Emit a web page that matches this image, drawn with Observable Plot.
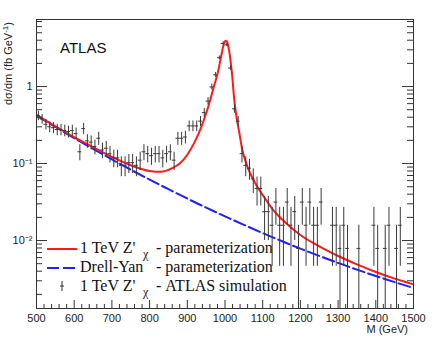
<!DOCTYPE html>
<html><head><meta charset="utf-8">
<script src="https://cdn.jsdelivr.net/npm/d3@7"></script>
<script src="https://cdn.jsdelivr.net/npm/@observablehq/plot@0.6"></script>
<style>
body{margin:0;background:#fff;}
#chart{position:relative;width:436px;height:338px;}
</style></head><body><div id="chart"></div>
<script>
// ---- data ----
const binCenters = [505,515,525,535,545,555,565,575,585,595,605,615,625,635,645,655,665,675,685,695,
  705,715,725,735,745,755,765,775,785,795,805,815,825,835,845,855,865,875,885,895,
  905,915,925,935,945,955,965,975,985,995,1005,1015,1025,1035,1045,1055,1065,1075,1085,1095,
  1105,1115,1125,1135,1145,1155,1165,1175,1185,1195,1205,1215,1225,1235,1245,1255,1265,1275,1285,1295,
  1305,1315,1325,1335,1345,1355,1365,1375,1385,1395,1405,1415,1425,1435,1445,1455,1465,1475,1485,1495];
// simulated events per 10 GeV bin
const counts = [53,48,41,38,37,35,35,34,33,34,31,18,36,25,24,21,27,19,20,17,
  15,15,12,12,13,13,12,14,18,17,16,17,17,15,17,18,14,27,27,28,
  39,39,39,45,58,82,125,180,300,460,440,220,65,45,17,12,11,8,6,6,
  3,3,2,4,2,2,4,2,3,1,4,2,4,2,2,4,0,0,2,2,
  1,2,1,0,0,1,0,0,0,2,1,0,1,2,0,1,2,0,0,0];
const eventWeight = 0.0079; // fb/GeV per simulated event

const zprimeMass = [500,550,600,650,700,750,800,830,860,880,900,917,935,950,960,970,980,990,997,1001,1005,1009,1014,1019,1024,1030,1038,1046,1055,1065,1078,1090,1105,1125,1150,1175,1200,1250,1300,1350,1400,1450,1500];
const zprimeParam = [0.43,0.305,0.22,0.163,0.122,0.095,0.080,0.078,0.087,0.100,0.130,0.18,0.28,0.45,0.65,0.98,1.45,2.5,3.6,3.95,3.85,3.3,2.3,1.4,0.72,0.42,0.25,0.15,0.105,0.078,0.058,0.046,0.036,0.026,0.019,0.0148,0.0118,0.0084,0.0063,0.0049,0.0039,0.0032,0.0027];

const dyMass = [500,550,600,650,700,750,800,850,900,950,1000,1050,1100,1150,1200,1250,1300,1350,1400,1450,1500];
const dyParam = [0.420,0.299,0.214,0.155,0.113,0.0832,0.0618,0.0464,0.0351,0.0267,0.0206,0.0160,0.0125,0.00986,0.00785,0.00631,0.00512,0.00419,0.00346,0.00288,0.00242];

const xTicks = [500,600,700,800,900,1000,1100,1200,1300,1400,1500];
const xTickLabels = ["500","600","700","800","900","1000","1100","1200","1300","1400","1500"];
const yTicks = [1,0.1,0.01];
const yTickLabels = ["1","10\u207B\u00B9","10\u207B\u00B2"];

// ---- layout ----
const W = 436, H = 338, mL = 36, mR = 23, mT = 19, mB = 30;
const fW = W - mL - mR, fH = H - mT - mB;
const yMin = 0.00131, yMax = 7.43;

const pts = binCenters.map((m, i) => ({m, n: counts[i], v: counts[i] * eventWeight, e: Math.sqrt(counts[i]) * eventWeight}))
  .filter(d => d.n > 0);
const zp = zprimeMass.map((m, i) => ({m, v: zprimeParam[i]}));
const dy = dyMass.map((m, i) => ({m, v: dyParam[i]}));

const xMinor = d3.range(500, 1501, 20).filter(v => v % 100 !== 0);
const yMinor = [];
for (const dec of [0.001, 0.01, 0.1, 1]) for (let k = 2; k <= 9; k++) { const v = k * dec; if (v > yMin && v < yMax) yMinor.push(v); }

const axisColor = "#333";
const plot = Plot.plot({
  width: W, height: H, marginLeft: mL, marginRight: mR, marginTop: mT, marginBottom: mB,
  x: {domain: [500, 1500]},
  y: {type: "log", domain: [yMin, yMax]},
  style: {fontFamily: "'Liberation Sans', Arial, sans-serif", fontSize: "11px", background: "#fff", color: "#222"},
  marks: [
    Plot.line(dy, {x: "m", y: "v", stroke: "#1f1fff", strokeWidth: 2, strokeDasharray: "12,4", curve: "monotone-x", clip: true}),
    Plot.line(zp, {x: "m", y: "v", stroke: "#ff1a1a", strokeWidth: 2, curve: "monotone-x", clip: true}),
    Plot.ruleX(pts, {x: "m", y1: d => Math.max(d.v - d.e, yMin * 0.5), y2: d => d.v + d.e, stroke: "#3a3a3a", strokeWidth: 1, clip: true}),
    Plot.ruleY(pts, {y: "v", x1: d => d.m - 5, x2: d => d.m + 5, stroke: "#3a3a3a", strokeWidth: 1, clip: true}),
    Plot.frame({stroke: axisColor, strokeWidth: 1}),
    // inward ticks (ROOT style)
    Plot.tickX(xTicks, {x: d => d, insetTop: fH - 8, stroke: axisColor}),
    Plot.tickX(xMinor, {x: d => d, insetTop: fH - 4, stroke: axisColor}),
    Plot.tickY(yTicks, {y: d => d, insetRight: fW - 11, stroke: axisColor}),
    Plot.tickY(yMinor, {y: d => d, insetRight: fW - 6, stroke: axisColor}),
    Plot.tickY(yTicks, {y: d => d, insetLeft: fW - 11, stroke: axisColor}),
    Plot.tickY(yMinor, {y: d => d, insetLeft: fW - 6, stroke: axisColor}),
    Plot.axisX({ticks: xTicks, tickSize: 0, tickPadding: 6, label: null, fontSize: 11,
      tickFormat: d => xTickLabels[xTicks.indexOf(d)]}),
    Plot.axisY({ticks: yTicks, tickSize: 0, tickPadding: 4, label: null, fontSize: 11,
      tickFormat: d => yTickLabels[yTicks.indexOf(d)]})
  ]
});
document.getElementById("chart").appendChild(plot);

// ---- annotations & legend ----
const svg = d3.select(plot);
const sans = "'Liberation Sans', Arial, sans-serif";
const serif = "'Liberation Serif', 'Times New Roman', serif";

// y title (rotated)
const ytg = svg.append("g").attr("transform", "translate(12,22)");
const yt = ytg.append("text")
  .attr("transform", "rotate(-90)")
  .attr("text-anchor", "end").attr("font-family", sans).attr("font-size", 11).attr("fill", "#222");
yt.append("tspan").text("d\u03C3/dm (fb GeV");
yt.append("tspan").attr("dy", -4).attr("font-size", 8).text("-1");
yt.append("tspan").attr("dy", 4).text(")");

// x title
svg.append("text").attr("x", 408).attr("y", 333).attr("text-anchor", "end")
  .attr("font-family", sans).attr("font-size", 11).attr("fill", "#222").text("M (GeV)");

// ATLAS label
svg.append("text").attr("x", 60).attr("y", 53).attr("text-anchor", "start").attr("font-family", sans).attr("font-size", 15)
  .attr("fill", "#111").text("ATLAS");

// legend
const lg = svg.append("g").attr("font-family", serif).attr("font-size", 16).attr("fill", "#111").attr("text-anchor", "start");
lg.append("line").attr("x1", 47).attr("x2", 77).attr("y1", 249).attr("y2", 249).attr("stroke", "#ff1a1a").attr("stroke-width", 2);
lg.append("line").attr("x1", 47).attr("x2", 77).attr("y1", 268).attr("y2", 268).attr("stroke", "#1f1fff").attr("stroke-width", 2).attr("stroke-dasharray", "12,4");
lg.append("line").attr("x1", 62).attr("x2", 62).attr("y1", 281).attr("y2", 291).attr("stroke", "#333");
lg.append("line").attr("x1", 60).attr("x2", 64).attr("y1", 286).attr("y2", 286).attr("stroke", "#333");

function entry(y, main, sub, rest) {
  const t = lg.append("text").attr("x", 80).attr("y", y).attr("text-anchor", "start");
  t.append("tspan").text(main);
  if (sub) t.append("tspan").attr("x", 143).attr("dy", 5).attr("font-size", 12).text(sub);
  t.append("tspan").attr("x", 156).attr("dy", sub ? -5 : 0).text(rest);
}
entry(253, "1 TeV Z'", "\u03C7", "- parameterization");
entry(272, "Drell-Yan", "", "- parameterization");
entry(291, "1 TeV Z'", "\u03C7", "- ATLAS simulation");
</script></body></html>
